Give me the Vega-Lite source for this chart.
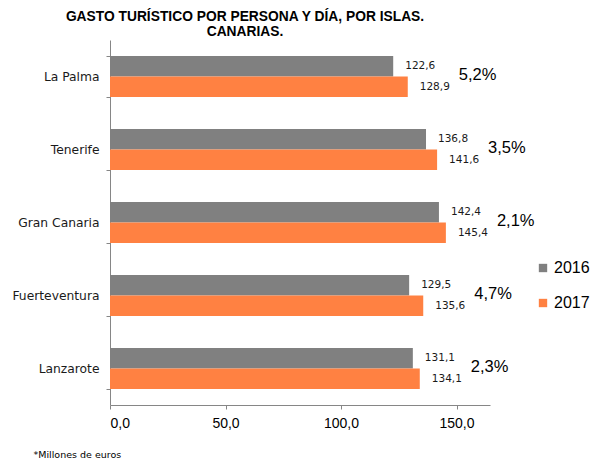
{
  "$schema": "https://vega.github.io/schema/vega-lite/v6.json",
  "autosize": {"type": "none"},
  "padding": {"left": 110, "top": 40, "right": 101, "bottom": 59},
  "width": 380,
  "height": 365,
  "config": {
    "locale": {"number": {"decimal": ",", "thousands": ".", "grouping": [3], "currency": ["", " €"]}},
    "view": {"stroke": null},
    "font": "Liberation Sans"
  },
  "title": {
    "text": ["GASTO TURÍSTICO POR PERSONA Y DÍA, POR ISLAS.", "CANARIAS."],
    "font": "Liberation Sans",
    "fontSize": 13.8,
    "fontWeight": "bold",
    "color": "#000000",
    "anchor": "middle",
    "dx": -55,
    "dy": 12,
    "offset": 7,
    "lineHeight": 15
  },
  "data": {
    "values": [
      {"isla": "La Palma", "anio": "2016", "valor": 122.6, "pct": ""},
      {"isla": "La Palma", "anio": "2017", "valor": 128.9, "pct": "5,2%"},
      {"isla": "Tenerife", "anio": "2016", "valor": 136.8, "pct": ""},
      {"isla": "Tenerife", "anio": "2017", "valor": 141.6, "pct": "3,5%"},
      {"isla": "Gran Canaria", "anio": "2016", "valor": 142.4, "pct": ""},
      {"isla": "Gran Canaria", "anio": "2017", "valor": 145.4, "pct": "2,1%"},
      {"isla": "Fuerteventura", "anio": "2016", "valor": 129.5, "pct": ""},
      {"isla": "Fuerteventura", "anio": "2017", "valor": 135.6, "pct": "4,7%"},
      {"isla": "Lanzarote", "anio": "2016", "valor": 131.1, "pct": ""},
      {"isla": "Lanzarote", "anio": "2017", "valor": 134.1, "pct": "2,3%"}
    ]
  },
  "encoding": {
    "y": {
      "field": "isla",
      "type": "nominal",
      "sort": ["La Palma", "Tenerife", "Gran Canaria", "Fuerteventura", "Lanzarote"],
      "scale": {"paddingInner": 0.44, "paddingOuter": 0.22},
      "axis": {
        "title": null,
        "tickBand": "extent",
        "domainColor": "#868686",
        "tickColor": "#868686",
        "tickSize": 4,
        "labelFont": "DejaVu Sans",
        "labelFontSize": 12.3,
        "labelColor": "#1a1a1a",
        "labelPadding": 7
      }
    }
  },
  "layer": [
    {
      "mark": {"type": "bar"},
      "encoding": {
        "x": {
          "field": "valor",
          "type": "quantitative",
          "scale": {"domain": [0, 164.5], "nice": false},
          "axis": {
            "values": [0, 50, 100, 150],
            "format": ".1f",
            "grid": false,
            "domainColor": "#868686",
            "tickColor": "#868686",
            "tickSize": 4,
            "labelFont": "Liberation Sans",
            "labelFontSize": 14,
            "labelColor": "#000000",
            "labelPadding": 7,
            "title": "*Millones de euros",
            "titleFont": "DejaVu Sans",
            "titleFontSize": 9.5,
            "titleFontWeight": "normal",
            "titleColor": "#000000",
            "titleAlign": "left",
            "titleAnchor": "start",
            "titleBaseline": "middle",
            "titleX": -77,
            "titleY": 49
          }
        },
        "yOffset": {"field": "anio", "type": "nominal"},
        "color": {
          "field": "anio",
          "type": "nominal",
          "scale": {"domain": ["2016", "2017"], "range": ["#808080", "#ff8142"]},
          "legend": {
            "title": null,
            "orient": "none",
            "legendX": 425,
            "legendY": 220,
            "padding": 0,
            "symbolType": "square",
            "symbolSize": 70,
            "symbolStrokeWidth": 0,
            "labelFont": "Liberation Sans",
            "labelFontSize": 16,
            "labelColor": "#000000",
            "labelOffset": 3,
            "rowPadding": 19
          }
        }
      }
    },
    {
      "mark": {"type": "text", "align": "left", "baseline": "middle", "dx": 12, "font": "DejaVu Sans", "fontSize": 10.5, "color": "#1a1a1a"},
      "encoding": {
        "x": {"field": "valor", "type": "quantitative"},
        "yOffset": {"field": "anio", "type": "nominal"},
        "text": {"field": "valor", "type": "quantitative", "format": ".1f"}
      }
    },
    {
      "transform": [{"filter": "datum.anio == '2017'"}],
      "mark": {"type": "text", "align": "left", "baseline": "middle", "dx": 51, "dy": -2, "font": "Liberation Sans", "fontSize": 16.5, "color": "#000000"},
      "encoding": {
        "x": {"field": "valor", "type": "quantitative"},
        "text": {"field": "pct", "type": "nominal"}
      }
    }
  ]
}
